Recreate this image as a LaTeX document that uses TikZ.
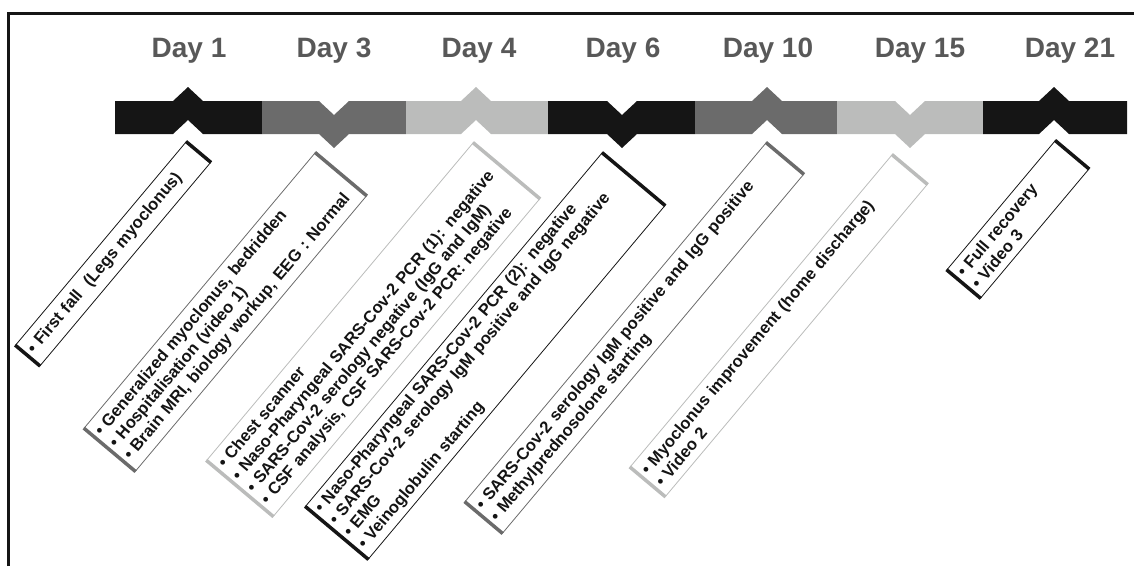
\documentclass[tikz,border=0pt]{standalone}
\usepackage{fontspec}
\setmainfont{Liberation Sans}
\definecolor{segA}{HTML}{151515}
\definecolor{segB}{HTML}{6B6B6B}
\definecolor{segC}{HTML}{BBBCBB}
\definecolor{daygray}{HTML}{585858}
\newcommand\tlUpSeg[4]{\fill[#1] (#2,-101) -- ({#3-15},-101) -- (#3,-87) -- ({#3+15},-101) -- (#4,-101) -- (#4,-134) -- ({#3+15},-134) -- (#3,-120) -- ({#3-15},-134) -- (#2,-134) -- cycle;}
\newcommand\tlDownSeg[4]{\fill[#1] (#2,-101) -- ({#3-15},-101) -- (#3,-115) -- ({#3+15},-101) -- (#4,-101) -- (#4,-134) -- ({#3+15},-134) -- (#3,-148) -- ({#3-15},-134) -- (#2,-134) -- cycle;}
\newcommand\tlEnds[2]{\draw[#1, line width=3.5pt] (#2.north east) -- (#2.south east); \draw[#1, line width=3.5pt] (#2.north west) -- (#2.south west);}
\newcommand\tlItem[1]{\mbox{•\hspace{5pt}#1}}
\begin{document}
\begin{tikzpicture}[x=1pt,y=1pt,
  daylabel/.style={font=\fontsize{28}{30}\selectfont\bfseries, text=daygray, anchor=base, inner sep=0pt},
  evbox/.style={draw=#1, line width=0.8pt, rotate=50, align=left, inner xsep=5pt, inner ysep=0pt,
    font=\fontsize{16.6}{18.8}\selectfont\bfseries, text=black!92},
]
\useasboundingbox (0,0) rectangle (1134,-566);
% frame
\draw[line width=2.5pt, segA] (8.7,-566) -- (8.7,-13.7) -- (1134,-13.7);
% day labels
\node[daylabel] (d1) at (189,-57) {Day 1};
\node[daylabel] (d3) at (334,-57) {Day 3};
\node[daylabel] (d4) at (479,-57) {Day 4};
\node[daylabel] (d6) at (623,-57) {Day 6};
\node[daylabel] (d10) at (768,-57) {Day 10};
\node[daylabel] (d15) at (920,-57) {Day 15};
\node[daylabel] (d21) at (1070,-57) {Day 21};
% timeline bar
\tlUpSeg{segA}{115}{188}{262}
\tlDownSeg{segB}{262}{334}{406}
\tlUpSeg{segC}{406}{476}{548}
\tlDownSeg{segA}{548}{622}{695}
\tlUpSeg{segB}{695}{767}{837}
\tlDownSeg{segC}{837}{910}{983}
\tlUpSeg{segA}{983}{1054}{1127}
% event boxes
\node[evbox=segA, text width=255pt, minimum height=32pt] (b1) at (113.1,-253.8)
  {\tlItem{First fall\ \ (Legs myoclonus)}};
\node[evbox=segB, text width=349pt, minimum height=67pt] (b2) at (225.3,-312)
  {\tlItem{Generalized myoclonus, bedridden}\\
   \tlItem{Hospitalisation (video 1)}\\
   \tlItem{Brain MRI, biology workup, EEG : Normal}};
\node[evbox=segC, text width=404pt, minimum height=87pt] (b3) at (373.2,-329.6)
  {\tlItem{Chest scanner}\\
   \tlItem{Naso-Pharyngeal SARS-Cov-2 PCR (1): negative}\\
   \tlItem{SARS-Cov-2 serology negative (IgG and IgM)}\\
   \tlItem{CSF analysis, CSF SARS-Cov-2 PCR: negative}};
\node[evbox=segA, text width=451pt, minimum height=82pt] (b4) at (485.2,-356)
  {\tlItem{Naso-Pharyngeal SARS-Cov-2 PCR (2): negative}\\
   \tlItem{SARS-Cov-2 serology IgM positive and IgG negative}\\
   \tlItem{EMG}\\
   \tlItem{Veinoglobulin starting}};
\node[evbox=segB, text width=458pt, minimum height=49pt] (b5) at (634.3,-338)
  {\tlItem{SARS-Cov-2 serology IgM positive and IgG positive}\\
   \tlItem{Methylprednosolone starting}};
\node[evbox=segC, text width=397pt, minimum height=46pt] (b6) at (778.7,-325.7)
  {\tlItem{Myoclonus improvement (home discharge)}\\
   \tlItem{Video 2}};
\node[evbox=segA, text width=158pt, minimum height=44pt] (b7) at (1017.9,-219.4)
  {\tlItem{Full recovery}\\
   \tlItem{Video 3}};
\tlEnds{segA}{b1}
\tlEnds{segB}{b2}
\tlEnds{segC}{b3}
\tlEnds{segA}{b4}
\tlEnds{segB}{b5}
\tlEnds{segC}{b6}
\tlEnds{segA}{b7}
\end{tikzpicture}
\end{document}
